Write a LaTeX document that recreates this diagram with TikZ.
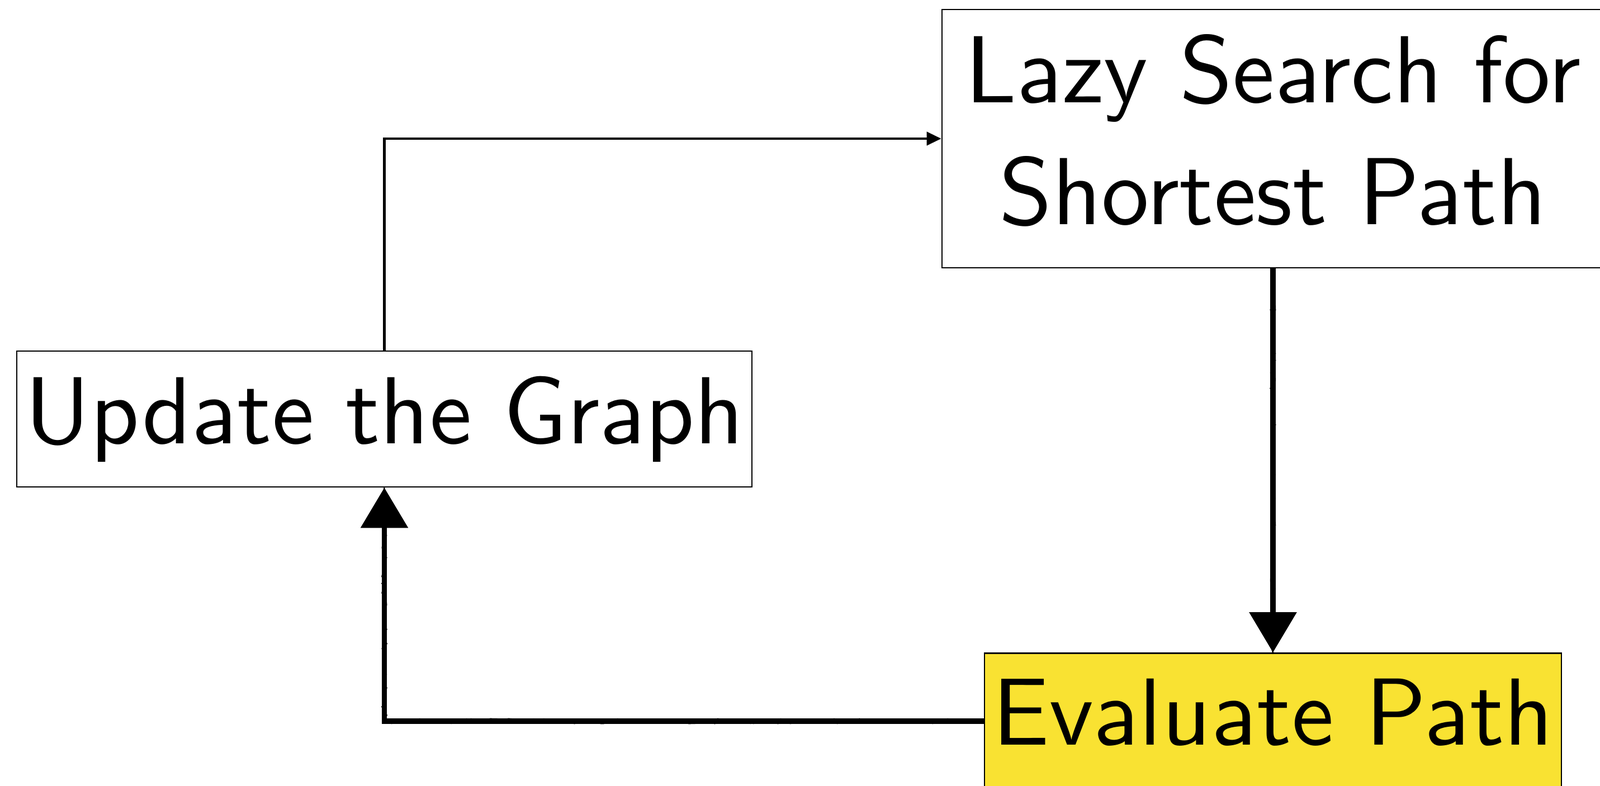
\documentclass[tikz,border=0pt]{standalone}
\usepackage{fontspec}
\usepackage{xcolor}
\usepackage{tikz}
\usetikzlibrary{arrows.meta,decorations.pathmorphing}

\newfontfamily\stagefont{lmsans10-regular.otf}
\definecolor{evalyellow}{RGB}{249,226,50}

\tikzset{
  stagebox/.style={draw, rectangle, line width=0.8pt, inner xsep=0.1cm, inner ysep=0cm,
    minimum height=2.43cm, align=center, font=\stagefont\fontsize{48.5}{62.3}\selectfont},
  plainarrow/.style={line width=1.15pt, -{Triangle[length=0.26cm, width=0.24cm]}},
  sketcharrow/.style={line width=2.8pt, -{Triangle[length=0.72cm, width=0.83cm]},
    postaction={draw, line width=0.7pt, -, decorate,
      decoration={random steps, segment length=2pt, amplitude=1.2pt}}}
}

\begin{document}
\begin{tikzpicture}
\useasboundingbox (0,0) rectangle (28.62,14.05);

\node[stagebox, minimum width=13.15cm] (upd) at (6.875,6.555) {Update the Graph};
\node[stagebox, minimum width=11.84cm, minimum height=4.62cm] (lazy) at (22.77,11.57)
  {Lazy Search for\\Shortest Path\vphantom{p}};
\node[stagebox, fill=evalyellow, minimum width=10.32cm] (eval) at (22.77,1.15) {Evaluate Path\vphantom{p}};

\draw[plainarrow] (upd.north) |- (lazy.west);
\draw[sketcharrow] (lazy.south) -- (eval.north);
\draw[sketcharrow] (eval.west) -| (upd.south);
\end{tikzpicture}
\end{document}
